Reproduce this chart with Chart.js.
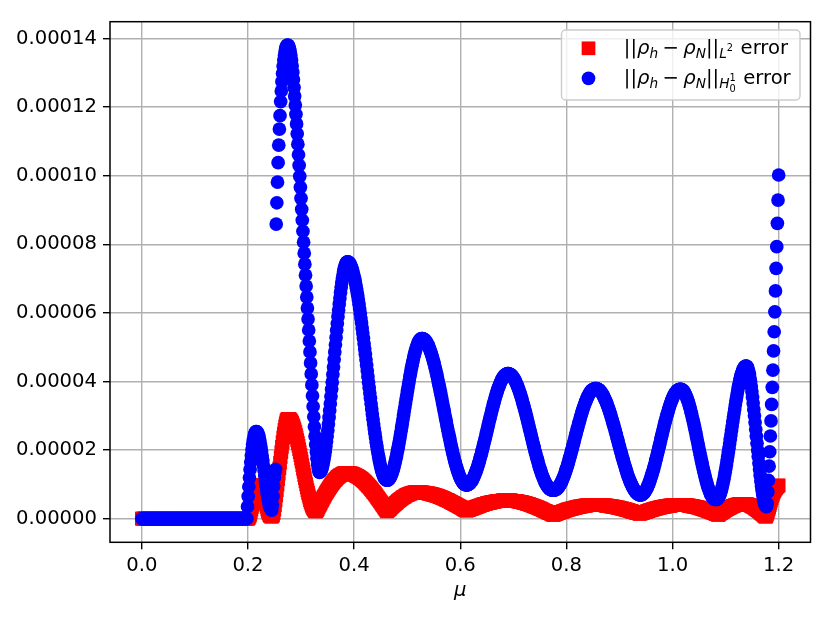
<!DOCTYPE html>
<html>
<head>
<meta charset="utf-8">
<script src="https://cdn.jsdelivr.net/npm/chart.js@4.4.0/dist/chart.umd.min.js"></script>
<style>
  html, body { margin: 0; padding: 0; background: #fff; }
  canvas { display: block; }
</style>
</head>
<body>
<canvas id="errChart" width="830" height="618"></canvas>
<script>
// mu is sampled on a uniform grid: mu_i = i * muStep, i = 0..1000
const muStep = 0.0012;

// ||rho_h - rho_N|| in the L2 norm, units of 1e-6
const l2Err = [
  0,0,0,0,0,0,0,0,0,0, 0,0,0,0,0,0,0,0,0,0, 0,0,0,0,0,0,0,0,0,0, 0,0,0,0,0,0,0,0,0,0,
  0,0,0,0,0,0,0,0,0,0, 0,0,0,0,0,0,0,0,0,0, 0,0,0,0,0,0,0,0,0,0, 0,0,0,0,0,0,0,0,0,0,
  0,0,0,0,0,0,0,0,0,0, 0,0,0,0,0,0,0,0,0,0, 0,0,0,0,0,0,0,0,0,0, 0,0,0,0,0,0,0,0,0,0,
  0,0,0,0,0,0,0,0,0,0, 0,0,0,0,0,0,0,0,0,0, 0,0,0,0,0,0,0,0,0,0, 0,0,0,0,0,0,0,0,0,0,
  0,0,0,0,0,0,0,0,
  // first bump (mostly hidden)
  0.2,0.6,1.1,1.8,2.6,3.4,4.3,5.2,6.0,6.8,7.5,8.1,8.7,9.1,9.4,9.7,9.8,9.8,9.7,9.4,
  9.0,8.5,7.9,7.2,6.5,5.7,4.9,4.1,3.4,2.7,2.1,1.6,1.2,0.9,0.7,0.6,0.6,0.7,
  // big peak near 0.27
  1.0,1.6,2.6,3.9,5.3,6.8,8.3,9.9,11.5,13.1,14.7,16.3,17.9,19.4,20.9,22.3,23.6,24.8,25.9,26.9,
  27.8,28.5,28.9,29.1,29.1,
  29.1,29.0,28.8,28.6,28.3,27.9,27.4,27.0,26.4,25.8,25.2,24.4,23.7,22.9,22.1,21.2,20.3,19.4,18.5,17.5,
  16.6,15.6,14.6,13.7,12.7,11.8,10.9,10.0,9.1,8.3,7.5,6.8,6.1,5.4,4.8,4.3,3.8,3.3,3.0,2.7,
  2.4,2.2,2.1,2.1,
  // oscillations
  2.5,2.8,3.2,3.6,3.9,4.3,4.6,5.0,5.4,5.7,6.1,6.4,6.7,7.1,7.4,7.7,8.0,8.3,8.6,8.9,
  9.2,9.5,9.8,10.0,10.3,10.5,10.8,11.0,11.2,11.4,11.6,11.8,12.0,12.2,12.3,12.5,12.6,12.7,12.8,12.9,
  13.0,13.1,13.2,13.2,13.3,13.3,13.3,13.3,
  13.3,13.3,13.3,13.2,13.2,13.2,13.1,13.1,13.0,12.9,12.9,12.8,12.7,12.6,12.5,12.4,12.3,12.2,12.1,11.9,
  11.8,11.7,11.5,11.4,11.2,11.0,10.9,10.7,10.5,10.3,10.1,9.9,9.7,9.5,9.3,9.1,8.9,8.6,8.4,8.2,
  7.9,7.7,7.5,7.2,7.0,6.7,6.4,6.2,5.9,5.7,5.4,5.1,4.9,4.6,4.3,4.0,3.8,3.5,3.2,2.9,
  2.7,2.4,2.1,
  2.3,2.5,2.7,2.8,3.0,3.2,3.4,3.6,3.7,3.9,4.1,4.2,4.4,4.6,4.7,4.9,5.1,5.2,5.4,5.5,
  5.7,5.8,5.9,6.1,6.2,6.3,6.4,6.5,6.7,6.8,6.9,7.0,7.0,7.1,7.2,7.3,7.3,7.4,7.5,7.5,
  7.6,7.6,7.6,7.7,7.7,7.7,7.7,
  7.7,7.7,7.7,7.7,7.7,7.7,7.6,7.6,7.6,7.6,7.6,7.5,7.5,7.5,7.5,7.4,7.4,7.3,7.3,7.3,
  7.2,7.2,7.1,7.1,7.0,7.0,6.9,6.9,6.8,6.7,6.7,6.6,6.6,6.5,6.4,6.3,6.3,6.2,6.1,6.0,
  6.0,5.9,5.8,5.7,5.6,5.5,5.5,5.4,5.3,5.2,5.1,5.0,4.9,4.8,4.7,4.6,4.5,4.4,4.3,4.2,
  4.1,4.0,3.9,3.8,3.7,3.6,3.5,3.4,3.3,3.2,3.1,3.0,2.8,2.7,2.6,2.5,2.4,2.3,
  2.4,2.5,2.5,2.6,2.7,2.8,2.8,2.9,3.0,3.0,3.1,3.2,3.3,3.3,3.4,3.5,3.5,3.6,3.7,3.7,
  3.8,3.9,3.9,4.0,4.1,4.1,4.2,4.2,4.3,4.3,4.4,4.5,4.5,4.6,4.6,4.7,4.7,4.7,4.8,4.8,
  4.9,4.9,4.9,5.0,5.0,5.0,5.1,5.1,5.1,5.1,5.2,5.2,5.2,5.2,5.2,5.3,5.3,5.3,5.3,5.3,
  5.3,5.3,5.3,
  5.3,5.3,5.3,5.3,5.3,5.3,5.3,5.2,5.2,5.2,5.2,5.2,5.1,5.1,5.1,5.1,5.0,5.0,5.0,4.9,
  4.9,4.8,4.8,4.8,4.7,4.7,4.6,4.6,4.5,4.5,4.4,4.3,4.3,4.2,4.2,4.1,4.0,4.0,3.9,3.8,
  3.8,3.7,3.6,3.6,3.5,3.4,3.3,3.3,3.2,3.1,3.0,2.9,2.9,2.8,2.7,2.6,2.5,2.4,2.3,2.3,
  2.2,2.1,2.0,1.9,1.8,1.7,1.6,1.6,1.5,1.4,1.3,1.2,1.1,
  1.2,1.2,1.3,1.4,1.4,1.5,1.6,1.6,1.7,1.8,1.9,1.9,2.0,2.0,2.1,2.2,2.2,2.3,2.4,2.4,
  2.5,2.6,2.6,2.7,2.7,2.8,2.8,2.9,2.9,3.0,3.0,3.1,3.1,3.2,3.2,3.3,3.3,3.4,3.4,3.5,
  3.5,3.5,3.6,3.6,3.6,3.7,3.7,3.7,3.8,3.8,3.8,3.8,3.9,3.9,3.9,3.9,3.9,3.9,4.0,4.0,
  4.0,4.0,4.0,4.0,4.0,4.0,
  4.0,4.0,4.0,4.0,4.0,4.0,4.0,4.0,3.9,3.9,3.9,3.9,3.9,3.9,3.9,3.8,3.8,3.8,3.8,3.7,
  3.7,3.7,3.7,3.6,3.6,3.6,3.5,3.5,3.5,3.4,3.4,3.4,3.3,3.3,3.2,3.2,3.2,3.1,3.1,3.0,
  3.0,2.9,2.9,2.8,2.8,2.7,2.7,2.6,2.6,2.5,2.5,2.4,2.4,2.3,2.3,2.2,2.1,2.1,2.0,2.0,
  1.9,1.9,1.8,1.7,1.7,1.6,1.6,1.5,1.5,1.4,
  1.5,1.5,1.6,1.7,1.7,1.8,1.9,1.9,2.0,2.0,2.1,2.2,2.2,2.3,2.4,2.4,2.5,2.5,2.6,2.6,
  2.7,2.8,2.8,2.9,2.9,3.0,3.0,3.1,3.1,3.2,3.2,3.3,3.3,3.4,3.4,3.4,3.5,3.5,3.5,3.6,
  3.6,3.7,3.7,3.7,3.7,3.8,3.8,3.8,3.8,3.9,3.9,3.9,3.9,3.9,4.0,4.0,4.0,4.0,4.0,4.0,
  4.0,4.0,4.0,
  4.0,4.0,4.0,4.0,4.0,4.0,3.9,3.9,3.9,3.9,3.9,3.9,3.8,3.8,3.8,3.7,3.7,3.7,3.6,3.6,
  3.6,3.5,3.5,3.4,3.4,3.4,3.3,3.3,3.2,3.2,3.1,3.0,3.0,2.9,2.9,2.8,2.7,2.7,2.6,2.6,
  2.5,2.4,2.3,2.3,2.2,2.1,2.1,2.0,1.9,1.9,1.8,1.7,1.6,1.6,1.5,1.4,1.3,1.3,1.2,1.1,
  1.2,1.4,1.5,1.6,1.7,1.9,2.0,2.1,2.2,2.4,2.5,2.6,2.7,2.8,2.9,3.0,3.1,3.2,3.3,3.4,
  3.5,3.6,3.7,3.7,3.8,3.9,3.9,4.0,4.0,4.1,4.1,4.2,4.2,4.2,4.3,4.3,4.3,4.3,4.3,
  4.3,4.3,4.3,4.2,4.2,4.2,4.1,4.1,4.0,3.9,3.9,3.8,3.7,3.6,3.5,3.4,3.3,3.2,3.0,2.9,
  2.8,2.6,2.5,2.4,2.2,2.1,1.9,1.7,1.6,1.4,1.3,1.1,0.9,0.8,0.6,
  // last rise up to mu = 1.2
  0.6,0.9,1.4,2.0,2.6,3.2,3.9,4.6,5.3,6.0,6.6,7.1,7.6,8.0,8.4,8.7,9.0,9.2,9.4,9.6,9.7
];

// ||rho_h - rho_N|| in the H^1_0 norm, units of 1e-6
const h1Err = [
  0,0,0,0,0,0,0,0,0,0, 0,0,0,0,0,0,0,0,0,0, 0,0,0,0,0,0,0,0,0,0, 0,0,0,0,0,0,0,0,0,0,
  0,0,0,0,0,0,0,0,0,0, 0,0,0,0,0,0,0,0,0,0, 0,0,0,0,0,0,0,0,0,0, 0,0,0,0,0,0,0,0,0,0,
  0,0,0,0,0,0,0,0,0,0, 0,0,0,0,0,0,0,0,0,0, 0,0,0,0,0,0,0,0,0,0, 0,0,0,0,0,0,0,0,0,0,
  0,0,0,0,0,0,0,0,0,0, 0,0,0,0,0,0,0,0,0,0, 0,0,0,0,0,0,0,0,0,0, 0,0,0,0,0,0,0,0,0,0,
  0,0,0,0,0,0,
  // small bump after 0.2
  3.5,6.5,9.3,11.9,14.3,16.5,18.4,20.1,21.6,22.8,23.8,24.6,25.1,25.4,25.4,
  25.3,25.0,24.5,23.9,23.0,22.0,20.9,19.7,18.3,16.9,15.4,14.0,12.5,11.0,9.6,8.2,7.0,5.9,4.9,4.0,
  3.4,2.9,2.6,2.5,4.0,6.5,9.5,12.0,13.6,14.4,
  // main peak
  85.9,92.1,98.1,103.8,108.9,113.6,117.5,121.6,124.7,127.4,
  129.8,131.9,133.6,135.0,136.2,137.1,137.7,138.0,138.1,138.0,
  137.6,137.0,136.1,135.0,133.6,132.0,130.1,128.0,125.7,123.2,
  120.6,117.9,115.1,112.2,109.2,106.1,103.0,99.8,96.6,93.4,
  90.2,87.0,83.8,80.6,77.4,74.2,71.0,67.8,64.6,61.4,
  58.2,55.0,51.8,48.6,45.4,42.2,39.0,35.8,32.7,29.7,
  26.8,24.1,21.6,19.4,17.5,15.9,14.6,13.8,13.5,
  // oscillations
  13.6,13.8,14.2,14.7,15.4,16.3,17.3,18.4,19.6,21.0,22.5,24.1,25.8,27.6,29.5,31.5,33.5,35.6,37.7,39.8,
  42.0,44.2,46.4,48.6,50.7,52.8,54.9,56.9,58.9,60.8,62.6,64.3,65.9,67.4,68.8,70.0,71.1,72.1,73.0,73.7,
  74.2,74.6,74.8,74.9,
  74.9,74.7,74.5,74.2,73.9,73.4,72.9,72.3,71.6,70.9,70.1,69.2,68.2,67.2,66.1,65.0,63.8,62.5,61.2,59.9,
  58.5,57.1,55.6,54.1,52.6,51.0,49.5,47.9,46.3,44.7,43.1,41.4,39.8,38.2,36.6,35.1,33.5,32.0,30.5,29.0,
  27.6,26.2,24.9,23.6,22.3,21.1,20.0,18.9,17.9,16.9,16.0,15.2,14.5,13.8,13.2,12.7,12.2,11.8,11.6,11.4,
  11.2,11.2,
  11.2,11.3,11.5,11.7,12.0,12.4,12.8,13.3,13.9,14.5,15.1,15.9,16.6,17.5,18.3,19.3,20.2,21.2,22.2,23.3,
  24.4,25.5,26.6,27.7,28.9,30.1,31.3,32.4,33.6,34.8,35.9,37.1,38.2,39.3,40.4,41.5,42.5,43.5,44.4,45.4,
  46.2,47.1,47.8,48.6,49.2,49.8,50.4,50.9,51.3,51.7,52.0,52.2,52.4,52.5,52.5,
  52.5,52.4,52.3,52.2,52.0,51.7,51.5,51.1,50.8,50.4,50.0,49.5,48.9,48.4,47.8,47.2,46.6,45.9,45.2,44.5,
  43.7,42.9,42.1,41.3,40.4,39.5,38.6,37.7,36.8,35.9,35.0,34.0,33.1,32.1,31.2,30.2,29.2,28.3,27.3,26.4,
  25.5,24.6,23.7,22.8,21.9,21.0,20.2,19.4,18.6,17.8,17.1,16.4,15.7,15.1,14.5,13.9,13.4,12.8,12.3,11.9,
  11.5,11.2,10.8,10.6,10.3,10.1,10.0,9.9,9.8,9.8,
  9.8,9.9,10.0,10.1,10.3,10.5,10.7,11.0,11.3,11.7,12.0,12.5,12.9,13.4,13.9,14.4,15.0,15.6,16.2,16.8,
  17.5,18.2,18.8,19.6,20.3,21.0,21.8,22.6,23.3,24.1,24.9,25.7,26.4,27.2,28.0,28.8,29.5,30.3,31.1,31.8,
  32.5,33.3,33.9,34.6,35.3,35.9,36.5,37.1,37.7,38.2,38.7,39.2,39.6,40.1,40.4,40.8,41.1,41.4,41.6,41.8,
  42.0,42.1,42.2,42.3,42.3,
  42.3,42.2,42.1,42.0,41.9,41.7,41.5,41.2,40.9,40.6,40.3,39.9,39.5,39.1,38.6,38.1,37.6,37.0,36.5,35.9,
  35.3,34.7,34.0,33.3,32.7,32.0,31.3,30.6,29.8,29.1,28.3,27.6,26.8,26.1,25.3,24.5,23.8,23.0,22.3,21.5,
  20.8,20.0,19.3,18.6,17.9,17.3,16.6,15.9,15.3,14.7,14.1,13.6,13.0,12.5,12.0,11.6,11.1,10.7,10.3,10.0,
  9.7,9.4,9.2,8.9,8.7,8.6,8.5,8.4,8.3,8.3,8.3,
  8.3,8.3,8.4,8.5,8.6,8.7,8.9,9.1,9.4,9.7,10.0,10.3,10.7,11.1,11.6,12.0,12.5,13.0,13.6,14.1,14.7,
  15.3,15.9,16.5,17.2,17.9,18.5,19.2,19.9,20.6,21.3,22.0,22.7,23.5,24.2,24.9,25.6,26.3,27.0,27.7,28.3,
  29.0,29.7,30.3,30.9,31.5,32.1,32.6,33.2,33.7,34.2,34.6,35.1,35.5,35.9,36.2,36.5,36.8,37.1,37.3,37.5,
  37.6,37.7,37.8,37.9,37.9,37.9,
  37.9,37.8,37.8,37.7,37.5,37.4,37.1,36.9,36.7,36.4,36.1,35.7,35.3,34.9,34.5,34.1,33.6,33.1,32.6,32.1,
  31.5,30.9,30.4,29.7,29.1,28.5,27.8,27.2,26.5,25.9,25.2,24.5,23.8,23.1,22.4,21.7,21.0,20.3,19.6,19.0,
  18.3,17.6,17.0,16.3,15.7,15.1,14.5,13.9,13.3,12.7,12.2,11.7,11.2,10.7,10.3,9.9,9.5,9.1,8.8,8.4,
  8.2,7.9,7.7,7.5,7.3,7.2,7.0,7.0,6.9,
  6.9,6.9,7.0,7.1,7.2,7.4,7.6,7.9,8.1,8.5,8.8,9.2,9.7,10.1,10.6,11.2,11.7,12.3,12.9,13.5,14.2,
  14.8,15.5,16.2,17.0,17.7,18.5,19.2,20.0,20.7,21.5,22.3,23.1,23.9,24.6,25.4,26.2,26.9,27.7,28.4,29.1,
  29.8,30.4,31.1,31.7,32.3,32.9,33.5,34.0,34.5,34.9,35.4,35.8,36.1,36.5,36.7,37.0,37.2,37.4,37.5,37.6,
  37.7,37.7,
  37.7,37.7,37.6,37.5,37.3,37.1,36.8,36.4,36.1,35.6,35.1,34.6,34.1,33.5,32.8,32.2,31.4,30.7,29.9,29.1,
  28.3,27.5,26.6,25.7,24.9,23.9,23.0,22.1,21.2,20.3,19.4,18.5,17.6,16.7,15.8,15.0,14.2,13.4,12.6,11.9,
  11.1,10.5,9.8,9.2,8.7,8.2,7.7,7.2,6.9,6.5,6.3,6.0,5.8,5.7,5.6,5.6,5.6,
  5.6,5.8,6.0,6.3,6.7,7.1,7.7,8.3,9.0,9.8,10.7,11.5,12.5,13.5,14.6,15.7,16.9,18.1,19.3,20.5,
  21.8,23.1,24.4,25.7,27.0,28.3,29.6,30.8,32.0,33.2,34.4,35.5,36.6,37.6,38.6,39.4,40.3,41.1,41.8,42.4,
  43.0,43.4,43.8,44.1,44.3,44.5,44.5,
  44.4,44.1,43.6,42.9,42.1,41.0,39.9,38.5,37.0,35.4,33.7,31.8,30.0,28.0,26.0,24.0,22.0,20.0,18.1,16.2,
  14.3,12.6,11.0,9.5,8.2,7.0,5.9,5.1,4.4,3.9,3.6,3.5,
  // steep rise to mu = 1.2
  4.4,7.8,11.2,15.3,19.5,24.1,28.5,33.3,38.3,43.3,48.9,54.5,60.3,66.4,73.0,79.3,86.1,92.9,100.2
];

const xTicks = [0, 0.2, 0.4, 0.6, 0.8, 1.0, 1.2];
const yTicks = [0, 0.00002, 0.00004, 0.00006, 0.00008, 0.0001, 0.00012, 0.00014];
const seriesLabels = ['L2 error', 'H1_0 error'];

const toPoints = (vals) => vals.map((v, i) => ({ x: i * muStep, y: v * 1e-6 }));

const FONT = "'DejaVu Sans', 'Liberation Sans', sans-serif";

// black box around the axes, like matplotlib spines
const framePlugin = {
  id: 'frame',
  afterDatasetsDraw(chart) {
    const { ctx, chartArea: a } = chart;
    ctx.save();
    ctx.strokeStyle = '#000';
    ctx.lineWidth = 1.5;
    ctx.strokeRect(a.left, a.top, a.right - a.left, a.bottom - a.top);
    ctx.restore();
  }
};

// legend with sub/superscripts (drawn by hand, chart.js legend can't do math text)
function drawRuns(ctx, runs, x, base) {
  for (const r of runs) {
    if (r.sp) { x += r.sp; continue; }
    ctx.font = r.f;
    ctx.fillText(r.t, x, base + (r.dy || 0));
    if (!r.stack) x += ctx.measureText(r.t).width;
  }
}

const legendPlugin = {
  id: 'mathLegend',
  afterDraw(chart) {
    const { ctx, chartArea: a } = chart;
    const w = 238.5, h = 70;
    const x0 = a.right - 10.5 - w, y0 = a.top + 8.3;
    ctx.save();
    ctx.beginPath();
    ctx.roundRect(x0, y0, w, h, 4);
    ctx.fillStyle = 'rgba(255,255,255,0.8)';
    ctx.fill();
    ctx.strokeStyle = '#cccccc';
    ctx.lineWidth = 1.4;
    ctx.stroke();

    const mx = x0 + 27;
    ctx.fillStyle = '#ff0000';
    ctx.fillRect(mx - 6.85, y0 + 18.3 - 6.85, 13.7, 13.7);
    ctx.fillStyle = '#0000ff';
    ctx.beginPath();
    ctx.arc(mx, y0 + 48.3, 6.85, 0, Math.PI * 2);
    ctx.fill();

    const RM = '19.6px ' + FONT, IT = 'italic 19.6px ' + FONT;
    const SI = 'italic 13.7px ' + FONT, SS = '9.8px ' + FONT;
    const head = [
      { t: '||', f: RM }, { t: 'ρ', f: IT }, { t: 'h', f: SI, dy: 4.3 }, { sp: 4.4 },
      { t: '−', f: RM }, { sp: 4.4 }, { t: 'ρ', f: IT }, { t: 'N', f: SI, dy: 4.3 }, { t: '||', f: RM }
    ];
    const row1 = head.concat([
      { t: 'L', f: SI, dy: 4.3 }, { t: '2', f: SS, dy: -3 }, { sp: 7.5 }, { t: 'error', f: RM }
    ]);
    const row2 = head.concat([
      { t: 'H', f: SI, dy: 4.3 }, { t: '1', f: SS, dy: -3, stack: true }, { t: '0', f: SS, dy: 8 },
      { sp: 7.5 }, { t: 'error', f: RM }
    ]);
    ctx.fillStyle = '#000';
    ctx.textBaseline = 'alphabetic';
    ctx.textAlign = 'left';
    drawRuns(ctx, row1, x0 + 62.3, y0 + 23.5);
    drawRuns(ctx, row2, x0 + 62.3, y0 + 53.5);
    ctx.restore();
  }
};

const tickFont = { family: FONT, size: 19.6 };
const gridOpts = { color: '#b0b0b0', lineWidth: 1.4, tickLength: 7, tickColor: '#000', tickWidth: 1.4 };

new Chart(document.getElementById('errChart'), {
  type: 'scatter',
  data: {
    datasets: [
      {
        label: seriesLabels[0],
        data: toPoints(l2Err),
        order: 1,
        pointStyle: 'rect',
        pointRadius: 9.7,
        pointHoverRadius: 9.7,
        pointBorderWidth: 0,
        backgroundColor: '#ff0000',
        borderColor: '#ff0000',
        showLine: false
      },
      {
        label: seriesLabels[1],
        data: toPoints(h1Err),
        order: 0,
        pointStyle: 'circle',
        pointRadius: 6.85,
        pointHoverRadius: 6.85,
        pointBorderWidth: 0,
        backgroundColor: '#0000ff',
        borderColor: '#0000ff',
        showLine: false
      }
    ]
  },
  options: {
    responsive: false,
    animation: false,
    events: [],
    layout: { padding: { left: 0, top: 21.7, right: 19.5, bottom: 0 } },
    plugins: { legend: { display: false }, tooltip: { enabled: false } },
    scales: {
      x: {
        type: 'linear',
        min: -0.06,
        max: 1.26,
        afterBuildTicks: (s) => { s.ticks = xTicks.map((v) => ({ value: v })); },
        afterFit: (s) => { s.height = 75.7; },
        ticks: { callback: (v) => v.toFixed(1), color: '#000', font: tickFont, padding: 5, maxRotation: 0, autoSkip: false },
        grid: gridOpts,
        border: { display: false },
        title: {
          display: true,
          text: 'μ',
          color: '#000',
          font: { family: FONT, size: 19.6, style: 'italic' },
          padding: { top: 0, bottom: 15 }
        }
      },
      y: {
        type: 'linear',
        min: -0.0000069,
        max: 0.0001449,
        afterBuildTicks: (s) => { s.ticks = yTicks.map((v) => ({ value: v })); },
        afterFit: (s) => { s.width = 110; },
        ticks: { callback: (v) => v.toFixed(5), color: '#000', font: tickFont, padding: 6, autoSkip: false },
        grid: gridOpts,
        border: { display: false }
      }
    }
  },
  plugins: [framePlugin, legendPlugin]
});
</script>
</body>
</html>
